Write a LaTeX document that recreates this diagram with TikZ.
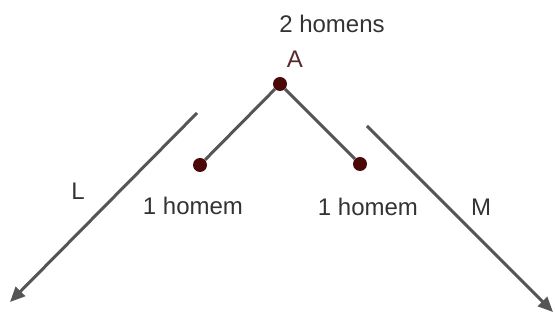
\documentclass[tikz,border=0pt]{standalone}
\usepackage{fontspec}
\setmainfont{Liberation Sans}
\usetikzlibrary{arrows.meta}
\definecolor{linegray}{HTML}{555555}
\definecolor{dotred}{HTML}{4A0808}
\definecolor{txtgray}{HTML}{333333}
\definecolor{labred}{HTML}{5A2A2A}
\tikzset{
  dot/.style={circle, fill=dotred, inner sep=0pt, minimum size=14pt},
  seg/.style={draw=linegray, line width=3pt},
  arr/.style={draw=linegray, line width=3pt, -{Triangle[length=15pt,width=13pt]}},
  lab/.style={text=txtgray, font=\fontsize{24}{28}\selectfont, inner sep=0pt, anchor=base},
}
\begin{document}
\begin{tikzpicture}[x=1pt,y=-1pt]
\useasboundingbox (0,0) rectangle (555,320);
\node[dot] (A) at (280,84) {};
\node[dot] (B) at (200,165) {};
\node[dot] (C) at (360,164) {};
\draw[seg] (A) -- (B);
\draw[seg] (A) -- (C);
\coordinate (L1) at (197,113);
\coordinate (L2) at (10,302);
\coordinate (M1) at (367,126);
\coordinate (M2) at (553,312);
\draw[arr] (L1) -- (L2);
\draw[arr] (M1) -- (M2);
\node[lab] (t2) at (332,33) {2 homens};
\node[lab, text=labred] (tA) at (295,68) {A};
\node[lab] (tB) at (193,215) {1 homem};
\node[lab] (tC) at (368,216) {1 homem};
\node[lab] (tM) at (481,216) {M};
\node[lab] (tL) at (78,200) {L};
\end{tikzpicture}
\end{document}
